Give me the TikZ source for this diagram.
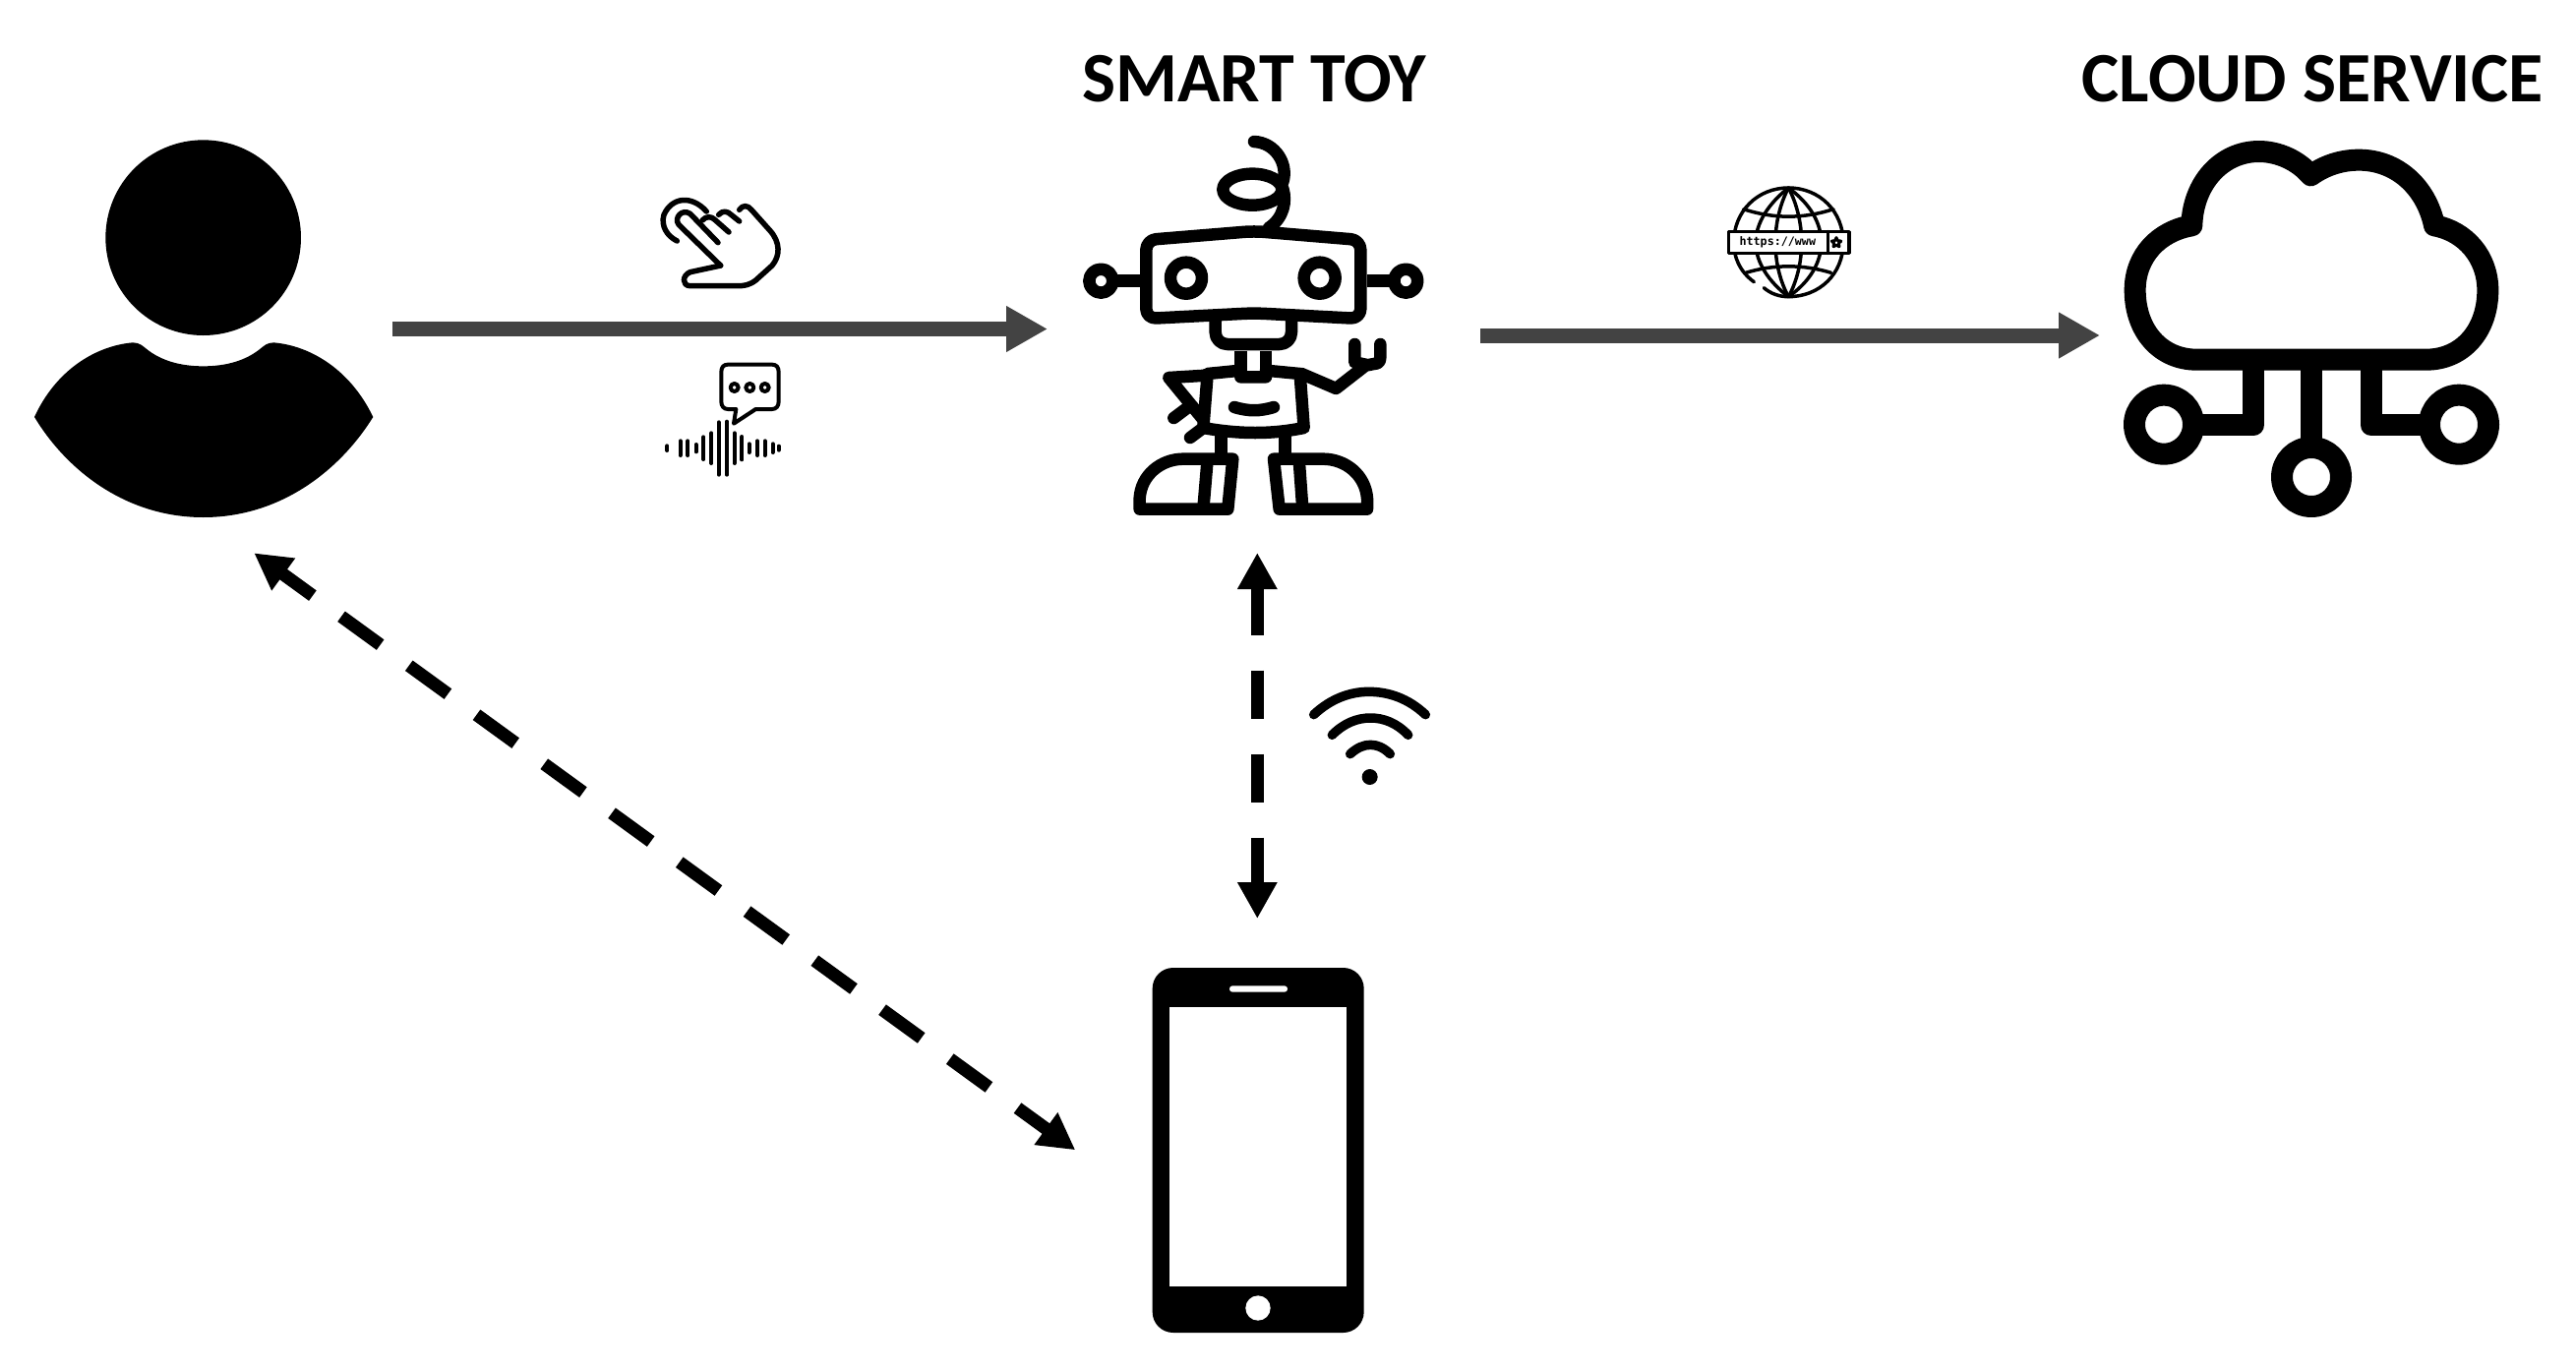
\documentclass[tikz,border=0pt]{standalone}
\usepackage{fontspec}
\setmainfont{Carlito}
\newfontfamily\urlfont{DejaVu Sans Mono}
\usetikzlibrary{arrows.meta,shapes.geometric}
\definecolor{flowgray}{HTML}{434343}
\tikzset{
    px/.style={x=1pt,y=-1pt},
    crop/.style 2 args={shift={(#1,#2)},scale=1/3},
    icon/.style={line width=#1,line cap=round,line join=round},
    title/.style={font=\bfseries\fontsize{72}{80}\selectfont,inner sep=0pt},
    flow/.style={draw=flowgray,line width=15pt,-{Triangle[length=42pt,width=44pt]}},
    link/.style={line width=13pt,dash pattern=on 49pt off 36pt,{Triangle[length=37pt,width=38pt]}-{Triangle[length=37pt,width=38pt]}}
}
\begin{document}
\begin{tikzpicture}[px]
    \useasboundingbox (0,0) rectangle (2619,1393);

    % titles
    \node[title] (toytitle) at (1275,80) {SMART TOY};
    \node[title] (cloudtitle) at (2351,80) {CLOUD SERVICE};

    % person
    \begin{scope}[crop={0}{120}]
        \fill (620,365) circle (298);
        \fill (105,912) .. controls (170,770) and (290,695) .. (405,685)
            .. controls (425,685) and (435,695) .. (445,703)
            .. controls (490,740) and (550,757) .. (620,757)
            .. controls (690,757) and (750,740) .. (795,703)
            .. controls (805,695) and (815,685) .. (835,685)
            .. controls (950,695) and (1070,770) .. (1138,912)
            .. controls (1040,1070) and (860,1218) .. (620,1218)
            .. controls (380,1218) and (200,1070) .. (105,912) -- cycle;
    \end{scope}

    % touch
    \begin{scope}[crop={640}{180},icon=5.5pt]
        \draw (278,270) -- (150,145) .. controls (135,125) and (160,95) .. (185,112) -- (270,200);
        \draw (222,132) .. controls (235,118) and (250,120) .. (260,130) -- (303,168);
        \draw (272,115) .. controls (285,100) and (300,105) .. (310,115) -- (335,135);
        \draw (335,100) .. controls (345,85) and (360,85) .. (372,100) -- (430,165)
            .. controls (460,200) and (460,240) .. (435,270) -- (385,315)
            .. controls (365,330) and (350,332) .. (330,332) -- (185,332)
            .. controls (160,332) and (160,300) .. (185,290) -- (278,270);
        \draw (235,105) .. controls (190,55) and (130,60) .. (105,115)
            .. controls (95,150) and (115,180) .. (145,195);
    \end{scope}

    % voice
    \begin{scope}[crop={640}{180},icon=4pt]
        \draw (325,708) -- (318,752) -- (385,708) -- (435,708)
            .. controls (448,708) and (455,698) .. (455,685) -- (455,595)
            .. controls (455,580) and (448,572) .. (435,572) -- (300,572)
            .. controls (287,572) and (280,580) .. (280,595) -- (280,685)
            .. controls (280,698) and (287,708) .. (300,708) -- cycle;
        \draw (320,642) circle (12) (367,642) circle (12) (413,642) circle (12);
        \draw (115,820) -- (115,834)
              (155,805) -- (155,849)
              (178,805) -- (178,849)
              (203,816) -- (203,838)
              (226,793) -- (226,861)
              (250,781) -- (250,873)
              (272,748) -- (272,908)
              (297,746) -- (297,908)
              (320,781) -- (320,873)
              (343,792) -- (343,862)
              (365,814) -- (365,840)
              (390,805) -- (390,849)
              (413,805) -- (413,849)
              (437,814) -- (437,840)
              (455,821) -- (455,833);
    \end{scope}

    % robot
    \begin{scope}[crop={1060}{130},icon=12.5pt]
        \draw (645,42) .. controls (710,45) and (750,110) .. (733,165);
        \draw (640,188) ellipse (90 and 48);
        \draw (733,185) .. controls (745,225) and (735,275) .. (690,305);
        \draw[rounded corners=10pt] (316,342) -- (645,315) -- (970,342) -- (970,582)
            -- (645,565) -- (316,582) -- cycle;
        \draw (438,458) circle (48) (845,458) circle (48);
        \draw (178,467) circle (36) (1108,467) circle (36);
        \draw[line cap=butt] (215,467) -- (297,467) (990,467) -- (1070,467);
        \draw[rounded corners=12pt] (527,590) -- (527,660) -- (759,660) -- (759,590);
        \draw[line cap=butt] (604,680) -- (604,745) (681,680) -- (681,745);
        \draw (503,750) -- (604,740) -- (604,760) -- (681,760) -- (681,740) -- (785,750)
            -- (797,915) .. controls (700,935) and (600,935) .. (490,915) -- cycle;
        \draw (585,852) .. controls (630,865) and (660,865) .. (705,852);
        \draw (500,755) -- (385,762) -- (490,890);
        \draw (400,885) -- (440,855) (450,945) -- (490,915);
        \draw (790,750) -- (895,795) -- (985,725) -- (1010,720)
            .. controls (1025,720) and (1030,712) .. (1030,700) -- (1030,660);
        \draw (952,660) -- (952,715) -- (985,722);
        \draw[line cap=butt] (545,935) -- (545,1000) (740,935) -- (740,1000);
        \draw (296,1163) -- (296,1130) .. controls (300,1060) and (360,1010) .. (430,1010)
            -- (580,1010) -- (565,1163) -- cycle;
        \draw[line cap=butt] (503,1010) -- (490,1163);
        \draw (990,1163) -- (990,1130) .. controls (985,1060) and (925,1010) .. (855,1010)
            -- (705,1010) -- (722,1163) -- cycle;
        \draw[line cap=butt] (782,1010) -- (793,1163);
    \end{scope}

    % globe
    \begin{scope}[crop={1730}{170},icon=3.5pt]
        \draw (160,350) .. controls (115,318) and (98,272) .. (98,230)
            .. controls (98,135) and (170,63) .. (265,63)
            .. controls (360,63) and (432,135) .. (432,230)
            .. controls (432,325) and (360,395) .. (265,395)
            .. controls (235,395) and (210,385) .. (190,368);
        \draw (265,63) .. controls (205,110) and (165,170) .. (165,230)
            .. controls (165,290) and (205,350) .. (265,395);
        \draw (265,63) .. controls (330,110) and (365,170) .. (365,230)
            .. controls (365,290) and (330,350) .. (265,395);
        \draw (265,63) .. controls (240,110) and (225,170) .. (225,230)
            .. controls (225,290) and (240,350) .. (265,395);
        \draw (265,63) .. controls (290,110) and (305,170) .. (305,230)
            .. controls (305,290) and (290,350) .. (265,395);
        \draw (128,128) .. controls (220,158) and (310,158) .. (402,128);
        \draw (135,322) .. controls (220,296) and (310,296) .. (395,322);
        \draw[fill=white] (83,197) rectangle (450,262);
        \draw (385,197) -- (385,262);
        \node[draw,star,star points=5,star point ratio=2,fill=white,line width=3pt,
            inner sep=0pt,minimum size=10pt] (urlstar) at (411,230) {};
        \node[inner sep=0pt,font=\urlfont\bfseries\fontsize{11.7}{12}\selectfont] (urltext) at (232,230) {https://www};
    \end{scope}

    % cloud
    \begin{scope}[crop={2130}{130},icon=22pt]
        \draw (310,707) .. controls (200,707) and (122,620) .. (122,495)
            .. controls (122,390) and (195,315) .. (295,298)
            .. controls (298,170) and (385,72) .. (500,72)
            .. controls (560,72) and (620,100) .. (658,145)
            .. controls (700,115) and (750,98) .. (805,98)
            .. controls (920,98) and (1010,180) .. (1035,298)
            .. controls (1130,315) and (1198,395) .. (1198,495)
            .. controls (1198,620) and (1120,707) .. (1010,707) -- cycle;
        \draw (210,905) circle (90) (660,1065) circle (90) (1110,905) circle (90);
        \draw[line cap=butt] (483,707) -- (483,907) -- (325,907)
                             (660,707) -- (660,975)
                             (842,707) -- (842,907) -- (1020,907);
    \end{scope}

    % wifi
    \begin{scope}[crop={1320}{680},icon=9.5pt]
        \draw (47,140) .. controls (100,90) and (160,70) .. (215,70)
            .. controls (275,70) and (335,90) .. (388,140);
        \draw (103,202) .. controls (140,165) and (180,150) .. (220,150)
            .. controls (260,150) and (300,165) .. (335,202);
        \draw (158,260) .. controls (180,240) and (200,232) .. (220,232)
            .. controls (240,232) and (260,240) .. (280,260);
        \fill (218,330) circle (24);
    \end{scope}

    % phone
    \begin{scope}[crop={1140}{960}]
        \fill[rounded corners=21pt] (95,72) rectangle (740,1185);
        \fill[white] (148,192) rectangle (688,1045);
        \fill[white,rounded corners=3pt] (330,127) rectangle (507,146);
        \fill[white] (417,1110) circle (38);
    \end{scope}

    % connectors
    \coordinate (userout) at (399,334.5);
    \coordinate (toyin) at (1065,334.5);
    \coordinate (toyout) at (1505,341);
    \coordinate (cloudin) at (2135,341);
    \coordinate (toydown) at (1278.3,562);
    \coordinate (phoneup) at (1278.3,934);
    \coordinate (userdown) at (258.3,562.3);
    \coordinate (phoneleft) at (1093.3,1169.3);
    \draw[flow] (userout) -- (toyin);
    \draw[flow] (toyout) -- (cloudin);
    \draw[link] (toydown) -- (phoneup);
    \draw[link,dash phase=10pt] (userdown) -- (phoneleft);
\end{tikzpicture}
\end{document}
